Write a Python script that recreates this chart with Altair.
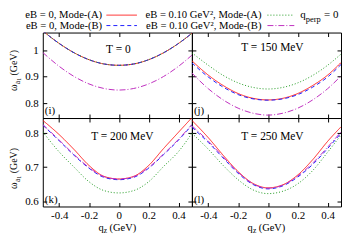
import altair as alt
import pandas as pd

# ---------------- data ----------------
q = [-0.51, -0.4, -0.3, -0.2, -0.1, 0.0, 0.1, 0.2, 0.3, 0.4, 0.49]

series = ["eB = 0, Mode-(A)", "eB = 0, Mode-(B)",
          "eB = 0.10 GeV², Mode-(A)", "eB = 0.10 GeV², Mode-(B)"]

# T = 0
t0_a0 = [1.072, 1.025, 0.990, 0.964, 0.948, 0.943, 0.948, 0.964, 0.990, 1.025, 1.063]
t0_b0 = [1.072, 1.025, 0.990, 0.964, 0.948, 0.943, 0.948, 0.964, 0.990, 1.025, 1.063]
t0_a1 = [1.072, 1.025, 0.990, 0.964, 0.948, 0.943, 0.948, 0.964, 0.990, 1.025, 1.063]
t0_b1 = [0.991, 0.939, 0.901, 0.873, 0.856, 0.850, 0.856, 0.873, 0.901, 0.939, 0.981]
# T = 150 MeV
t150_a0 = [0.960, 0.906, 0.867, 0.837, 0.819, 0.813, 0.819, 0.837, 0.867, 0.906, 0.953]
t150_b0 = [0.952, 0.899, 0.861, 0.833, 0.817, 0.812, 0.817, 0.833, 0.861, 0.899, 0.946]
t150_a1 = [0.990, 0.943, 0.905, 0.877, 0.860, 0.854, 0.860, 0.877, 0.905, 0.943, 0.985]
t150_b1 = [0.914, 0.855, 0.813, 0.782, 0.763, 0.756, 0.763, 0.782, 0.813, 0.855, 0.903]
# T = 200 MeV
t200_a0 = [0.838, 0.796, 0.752, 0.705, 0.673, 0.665, 0.673, 0.705, 0.755, 0.803, 0.846]
t200_b0 = [0.824, 0.778, 0.735, 0.697, 0.670, 0.663, 0.670, 0.697, 0.737, 0.780, 0.824]
t200_a1 = [0.804, 0.745, 0.700, 0.657, 0.631, 0.624, 0.631, 0.657, 0.702, 0.746, 0.800]
t200_b1 = [0.826, 0.780, 0.737, 0.699, 0.672, 0.665, 0.672, 0.699, 0.739, 0.782, 0.826]
# T = 250 MeV
t250_a0 = [0.838, 0.787, 0.735, 0.687, 0.652, 0.639, 0.648, 0.677, 0.722, 0.776, 0.819]
t250_b0 = [0.818, 0.773, 0.727, 0.682, 0.649, 0.636, 0.645, 0.671, 0.708, 0.755, 0.800]
t250_a1 = [0.800, 0.753, 0.705, 0.663, 0.633, 0.622, 0.629, 0.651, 0.690, 0.744, 0.795]
t250_b1 = [0.822, 0.777, 0.730, 0.685, 0.651, 0.638, 0.647, 0.674, 0.712, 0.759, 0.804]

temps = ["T = 0", "T = 150 MeV", "T = 200 MeV", "T = 250 MeV"]
letters = ["(i)", "(j)", "(k)", "(l)"]
x_ticks = [-0.4, -0.2, 0, 0.2, 0.4]
y_ticks_top = [0.8, 0.9, 1.0]
y_ticks_bot = [0.6, 0.7, 0.8]
x_dom = [-0.51, 0.49]
y_dom_top = [0.745, 1.066]
y_dom_bot = [0.584, 0.845]

# ---------------- styles ----------------
FONT = "Liberation Serif"
colors = ["#ff2020", "#2020ff", "#209a20", "#c030c0"]
dashes = [[1, 0], [4, 3], [1, 2], [6, 2, 1, 2]]
TICK = 4
W_L, W_R = 150, 150
H_T, H_B = 86, 89


def txt(text, x, y, size, align="center", baseline="middle", angle=0):
    return alt.Chart(pd.DataFrame({"t": [text]})).mark_text(
        font=FONT, fontSize=size, align=align, baseline=baseline,
        angle=angle, color="black"
    ).encode(text="t:N", x=alt.value(x), y=alt.value(y))


def axis(orient, values, labels, pad=3):
    kw = dict(orient=orient, values=values, offset=-TICK, tickSize=TICK,
              domain=False, grid=False, labels=labels, title=None,
              tickColor="black", tickWidth=1, minExtent=0)
    if labels:
        kw.update(labelExpr="datum.value + ''", labelFont=FONT, labelFontSize=11,
                  labelColor="black", labelPadding=pad, labelOverlap=False)
    return alt.Axis(**kw)


# legend (gnuplot style: text, then line sample), drawn above panel (i)
legend_layers = []
for i, s in enumerate(series):
    col, row = divmod(i, 2)
    tx = [59.7, 220][col]
    ty = [-17.5, -7][row]
    sx = [64, 226][col]
    sw = [30.7, 27][col]
    legend_layers.append(txt(s, tx, ty, 10.7, align="right"))
    legend_layers.append(alt.Chart(pd.DataFrame({"t": [s]})).mark_rule(
        color=colors[i], strokeDash=dashes[i], strokeWidth=1
    ).encode(x=alt.value(sx), x2=alt.value(sx + sw), y=alt.value(ty)))
legend_layers += [
    txt("q", 259, -17.5, 11, align="left"),
    txt("perp", 264.6, -13.5, 8.5, align="left"),
    txt("= 0", 283, -17.5, 11, align="left"),
]


def panel(k, vals, w, h, ydom, yticks, left, bottom, tpos, extra=()):
    df = pd.DataFrame({
        "q": q * len(series),
        "w": [v for s in vals for v in s],
        "s": [name for name in series for _ in q],
    })
    xs = alt.Scale(domain=x_dom, nice=False, zero=False)
    ys = alt.Scale(domain=ydom, nice=False, zero=False)
    lines = alt.Chart(df).mark_line(clip=True, interpolate="monotone", strokeWidth=1).encode(
        x=alt.X("q:Q", scale=xs, axis=axis("bottom", x_ticks, bottom, 3)),
        y=alt.Y("w:Q", scale=ys, axis=axis("left", yticks, left, 4.5)),
        color=alt.Color("s:N", scale=alt.Scale(domain=series, range=colors), legend=None),
        strokeDash=alt.StrokeDash("s:N", scale=alt.Scale(domain=series, range=dashes), legend=None),
        order=alt.Order("q:Q"),
    )
    mirror = alt.Chart(df).mark_line(strokeOpacity=0).encode(
        x=alt.X("q:Q", scale=xs, axis=axis("top", x_ticks, False)),
        y=alt.Y("w:Q", scale=ys, axis=axis("right", yticks, False)),
    )
    layers = [lines, mirror,
              txt(temps[k], tpos[0], tpos[1], 11.5),
              txt(letters[k], 2, h - 7, 11, align="left")]
    if left:
        c = 55.5 if h == H_T else 68
        layers += [
            txt("ω", -26, c, 10, baseline="alphabetic", angle=270),
            txt("a", -23, c - 5.2, 7.5, baseline="alphabetic", angle=270),
            txt("1", -21.5, c - 8.4, 6, baseline="alphabetic", angle=270),
            txt("(GeV)", -26, c - 25.1, 10, baseline="alphabetic", angle=270),
        ]
    if bottom:
        x0 = w / 2 - 19
        layers += [
            txt("q", x0, h + 24.5, 10.5, align="left", baseline="alphabetic"),
            txt("z", x0 + 5.4, h + 27, 7.5, align="left", baseline="alphabetic"),
            txt("(GeV)", x0 + 11.2, h + 24.5, 10.5, align="left", baseline="alphabetic"),
        ]
    layers += list(extra)
    return alt.layer(*layers).resolve_axis(x="independent", y="independent").properties(
        width=w, height=h, view=alt.ViewBackground(stroke="black", strokeWidth=1))


p_i = panel(0, [t0_a0, t0_b0, t0_a1, t0_b1], W_L, H_T, y_dom_top, y_ticks_top, True, False, (76, 18),
            extra=legend_layers)
p_j = panel(1, [t150_a0, t150_b0, t150_a1, t150_b1], W_R, H_T, y_dom_top, y_ticks_top, False, False, (81, 16))
p_k = panel(2, [t200_a0, t200_b0, t200_a1, t200_b1], W_L, H_B, y_dom_bot, y_ticks_bot, True, True, (80, 19))
p_l = panel(3, [t250_a0, t250_b0, t250_a1, t250_b1], W_R, H_B, y_dom_bot, y_ticks_bot, False, True, (81, 19))

chart = alt.concat(p_i, p_j, p_k, p_l, columns=2, spacing=0, bounds="flush").properties(
    padding=0
).configure_view(stroke="black", strokeWidth=1)

chart.save("out.html", embed_options={"renderer": "svg", "actions": False})
